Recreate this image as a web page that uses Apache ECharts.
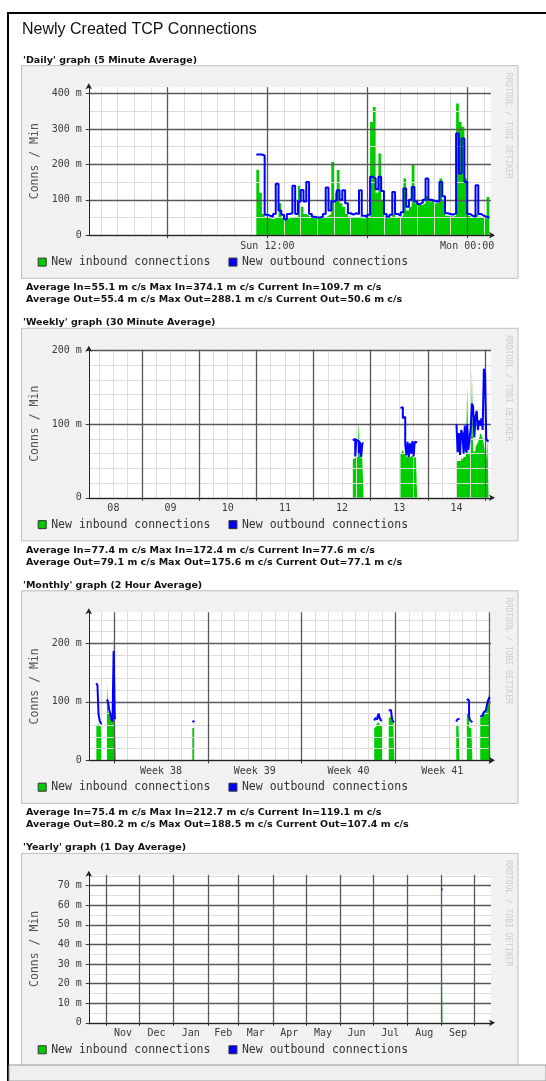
<!DOCTYPE html>
<html>
<head>
<meta charset="utf-8">
<title>Newly Created TCP Connections</title>
<script src="https://cdn.jsdelivr.net/npm/echarts@6/dist/echarts.min.js"></script>
<style>
  html, body { margin: 0; padding: 0; background: #fff; }
  #chart { width: 546px; height: 1081px; }
</style>
</head>
<body>
<div id="chart"></div>
<script>
// ---------- data ----------
var pageTitle = 'Newly Created TCP Connections';
var seriesNames = ['New inbound connections', 'New outbound connections'];
var panelTitles = [
  "'Daily' graph (5 Minute Average)",
  "'Weekly' graph (30 Minute Average)",
  "'Monthly' graph (2 Hour Average)",
  "'Yearly' graph (1 Day Average)"
];
var statsIn = [
  'Average In=55.1 m c/s Max In=374.1 m c/s Current In=109.7 m c/s',
  'Average In=77.4 m c/s Max In=172.4 m c/s Current In=77.6 m c/s',
  'Average In=75.4 m c/s Max In=212.7 m c/s Current In=119.1 m c/s'
];
var statsOut = [
  'Average Out=55.4 m c/s Max Out=288.1 m c/s Current Out=50.6 m c/s',
  'Average Out=79.1 m c/s Max Out=175.6 m c/s Current Out=77.1 m c/s',
  'Average Out=80.2 m c/s Max Out=188.5 m c/s Current Out=107.4 m c/s'
];

// daily: hours since Sun 00:00, 10 minute samples (null = gap)
var dailyStarts = [11 + 20 / 60];
var dailyStep = 1 / 6;
var dailyIn = [185, 120, 60, 50, 48, 45, 48, 50, 90, 50,
  45, 48, 50, 52, 50, 140, 80, 60, 55, 50,
  48, 48, 48, 48, 50, 55, 60, 207, 120, 184,
  90, 80, 60, 52, 50, 50, 50, 55, 48, 48,
  50, 320, 362, 120, 231, 100, 55, 48, 50, 60,
  52, 50, 55, 160, 70, 80, 198, 90, 85, 85,
  90, 110, 95, 100, 90, 92, 160, 100, 55, 55,
  52, 55, 372, 320, 306, 160, 55, 50, 48, 60,
  52, 50, 48, 108];
var dailyOut = [228, 228, 225, 58, 55, 52, 60, 145, 70, 58,
  45, 60, 62, 140, 60, 95, 128, 95, 150, 60,
  52, 50, 50, 52, 60, 135, 70, 95, 100, 127,
  100, 127, 90, 62, 58, 62, 60, 127, 55, 52,
  58, 165, 160, 130, 165, 125, 60, 52, 58, 122,
  60, 55, 65, 132, 80, 100, 136, 95, 88, 92,
  100, 160, 100, 98, 95, 95, 150, 110, 62, 60,
  58, 62, 287, 174, 273, 150, 60, 55, 52, 141,
  60, 55, 52, 50];
var dailyXTicks = [12, 24];
var dailyXLabels = ['Sun 12:00', 'Mon 00:00'];
var dailyYTicks = [0, 100, 200, 300, 400];
var dailyYLabels = ['0', '100 m', '200 m', '300 m', '400 m'];

// weekly: hours since day 08 00:00, 30 minute samples
var weeklyStarts = [112.5, 132.5, 156];
var weeklyStep = 0.5;
var weeklyIn = [52, 54, 53, 55, 52, 104, 55, 53, 50, null,
  58, 62, 65, 60, 58, 55, 57, 54, 56, 55, 57, 54, 55, 53, null,
  50, 50, 52, 50, 55, 52, 55, 56, 60, 152, 60, 58, 62, 173, 62, 64, 68, 72, 75, 80, 88, 85, 80, 72, 60, 52, 78];
var weeklyOut = [78, 80, 56, 79, 77, 60, 76, 55, 74, null,
  122, 123, 108, 110, 72, 58, 76, 55, 74, 60, 77, 56, 76, 75, null,
  100, 62, 88, 58, 92, 88, 60, 98, 62, 100, 65, 80, 95, 128, 124, 82, 110, 118, 92, 105, 98, 108, 92, 175, 170, 80, 77];
var weeklyXTicks = [12, 36, 60, 84, 108, 132, 156];
var weeklyXLabels = ['08', '09', '10', '11', '12', '13', '14'];
var weeklyYTicks = [0, 100, 200];
var weeklyYLabels = ['0', '100 m', '200 m'];

// monthly: hours since start of week 38, 2 hour samples
var monthlyStarts = [-32, -13, 140, 466, 492, 613, 632, 656];
var monthlyStep = 2;
var monthlyIn = [60, 62, 58, 60, 55, null,
  135, 82, 80, 78, 75, 72, 212, 65, null,
  55, 56, null,
  55, 58, 62, 65, 63, 60, 58, null,
  72, 75, 76, 74, 70, null,
  58, 60, 59, null,
  80, 78, 56, 55, 54, null,
  72, 74, 75, 80, 85, 88, 92, 100, 119];
var monthlyOut = [132, 128, 78, 68, 63, null,
  104, 100, 86, 80, 70, 66, 187, 72, null,
  66, 67, null,
  68, 72, 70, 75, 80, 72, 68, null,
  85, 86, 84, 70, 66, null,
  66, 70, 71, null,
  105, 102, 75, 68, 65, null,
  75, 76, 78, 82, 85, 88, 95, 102, 107];
var monthlyXTicks = [84, 252, 420, 588];
var monthlyXLabels = ['Week 38', 'Week 39', 'Week 40', 'Week 41'];
var monthlyYTicks = [0, 100, 200];
var monthlyYLabels = ['0', '100 m', '200 m'];

// yearly: days since Oct 16, 1 day samples
var yearlyStarts = [320];
var yearlyStep = 1;
var yearlyIn = [57];
var yearlyOut = [68];
var yearlyMonthStarts = [16, 46, 77, 108, 136, 167, 197, 228, 258, 289, 320, 350];
var yearlyXTicks = [31, 61.5, 92.5, 122, 151.5, 182, 212.5, 243, 273.5, 304.5, 335];
var yearlyXLabels = ['Nov', 'Dec', 'Jan', 'Feb', 'Mar', 'Apr', 'May', 'Jun', 'Jul', 'Aug', 'Sep'];
var yearlyYTicks = [0, 10, 20, 30, 40, 50, 60, 70];
var yearlyYLabels = ['0', '10 m', '20 m', '30 m', '40 m', '50 m', '60 m', '70 m'];

// ---------- helpers ----------
function range(a, b, s) {
  var r = [];
  for (var v = a; v <= b + 1e-9; v += s) r.push(+v.toFixed(4));
  return r;
}

// samples -> stepped points; each sample holds its value for one step
function toPoints(starts, step, values) {
  var pts = [], seg = 0, t = starts[0], last = null;
  values.forEach(function (v) {
    if (v === null) {
      pts.push([t, last]);
      pts.push([t, '-']);
      seg++;
      t = starts[seg];
      return;
    }
    pts.push([t, v]);
    last = v;
    t += step;
  });
  pts.push([t, last]);
  return pts;
}

// ---------- layout ----------
var MONO = '"DejaVu Sans Mono", monospace';
var SANS = '"DejaVu Sans", sans-serif';
var firstBox = 65.7, panelStep = 262.55;
var plotLeft = 88.8, plotWidth = 402.2, plotTop = 21.5, plotHeight = 148;

var panels = [
  { xMin: 1.27, xMax: 25.43, yMax: 418,
    inPts: toPoints(dailyStarts, dailyStep, dailyIn), outPts: toPoints(dailyStarts, dailyStep, dailyOut),
    xTicks: dailyXTicks, xLabels: dailyXLabels, yTicks: dailyYTicks, yLabels: dailyYLabels,
    majorX: [6, 12, 18, 24], minorX: range(2, 25, 1), minorY: range(50, 350, 100) },
  { xMin: 1.68, xMax: 170.5, yMax: 201,
    inPts: toPoints(weeklyStarts, weeklyStep, weeklyIn), outPts: toPoints(weeklyStarts, weeklyStep, weeklyOut),
    xTicks: weeklyXTicks, xLabels: weeklyXLabels, yTicks: weeklyYTicks, yLabels: weeklyYLabels,
    majorX: range(24, 168, 24), minorX: range(6, 168, 6), minorY: range(20, 180, 20) },
  { xMin: -45.5, xMax: 675.3, yMax: 253,
    inPts: toPoints(monthlyStarts, monthlyStep, monthlyIn), outPts: toPoints(monthlyStarts, monthlyStep, monthlyOut),
    xTicks: monthlyXTicks, xLabels: monthlyXLabels, yTicks: monthlyYTicks, yLabels: monthlyYLabels,
    majorX: range(0, 672, 168), minorX: range(-24, 672, 24), minorY: range(20, 240, 20) },
  { xMin: 0, xMax: 365, yMax: 75.5,
    inPts: toPoints(yearlyStarts, yearlyStep, yearlyIn), outPts: toPoints(yearlyStarts, yearlyStep, yearlyOut),
    xTicks: yearlyXTicks, xLabels: yearlyXLabels, yTicks: yearlyYTicks, yLabels: yearlyYLabels,
    majorX: yearlyMonthStarts, minorX: [], minorY: range(5, 75, 10) }
];

var minorStyle = { color: '#dcdcdc', width: 1, type: 'solid' };
var majorStyle = { color: '#585858', width: 1.3, type: 'solid' };

function gridLines(xs, ys, style) {
  return xs.map(function (v) { return { xAxis: v, lineStyle: style }; })
    .concat(ys.map(function (v) { return { yAxis: v, lineStyle: style }; }));
}

function markLineOf(items) {
  return {
    silent: true, symbol: ['none', 'none'], animation: false,
    label: { show: false }, emphasis: { disabled: true },
    data: items
  };
}

var grids = [], xAxes = [], yAxes = [], series = [], legends = [], graphics = [];

panels.forEach(function (p, k) {
  var box = firstBox + panelStep * k;

  grids.push({
    left: plotLeft, top: box + plotTop, width: plotWidth, height: plotHeight,
    show: true, backgroundColor: '#ffffff', borderWidth: 0, z: 1
  });

  xAxes.push({
    type: 'value', gridIndex: k, min: p.xMin, max: p.xMax, z: 6,
    splitLine: { show: false },
    axisLine: { show: true, onZero: false, lineStyle: { color: '#222', width: 1 },
      symbol: ['none', 'arrow'], symbolSize: [5, 6], symbolOffset: [0, 4] },
    axisTick: { show: true, customValues: p.majorX, length: 3, lineStyle: { color: '#333' } },
    axisLabel: {
      customValues: p.xTicks, margin: 6, color: '#3a3a3a',
      fontFamily: MONO, fontSize: 10,
      formatter: function (v) { return p.xLabels[p.xTicks.indexOf(v)] || ''; }
    }
  });

  yAxes.push({
    type: 'value', gridIndex: k, min: 0, max: p.yMax, z: 6,
    splitLine: { show: false },
    axisLine: { show: true, onZero: false, lineStyle: { color: '#222', width: 1 },
      symbol: ['none', 'arrow'], symbolSize: [5, 6], symbolOffset: [0, 4] },
    axisTick: { show: true, customValues: p.yTicks, length: 3, lineStyle: { color: '#333' } },
    axisLabel: {
      customValues: p.yTicks, margin: 7, color: '#3a3a3a',
      fontFamily: MONO, fontSize: 10,
      formatter: function (v) { return p.yLabels[p.yTicks.indexOf(v)] || ''; }
    }
  });

  series.push({
    type: 'line', name: 'minor-grid-' + k, xAxisIndex: k, yAxisIndex: k, data: [], z: 2,
    silent: true, markLine: markLineOf(gridLines(p.minorX, p.minorY, minorStyle))
  });
  series.push({
    type: 'line', name: seriesNames[0], xAxisIndex: k, yAxisIndex: k, z: 3,
    step: 'end', symbol: 'none', data: p.inPts,
    lineStyle: { width: 0 }, itemStyle: { color: '#00cc00' },
    areaStyle: { color: '#00cc00', opacity: 1 }
  });
  series.push({
    type: 'line', name: 'major-grid-' + k, xAxisIndex: k, yAxisIndex: k, data: [], z: 4,
    silent: true, markLine: markLineOf(gridLines(p.majorX, p.yTicks, majorStyle))
  });
  series.push({
    type: 'line', name: seriesNames[1], xAxisIndex: k, yAxisIndex: k, z: 5,
    step: 'end', symbol: 'none', data: p.outPts,
    lineStyle: { color: '#0000ff', width: 2 }, itemStyle: { color: '#0000ff' }
  });

  legends.push({
    data: seriesNames, left: 37.7, top: box + 196.4 - 6, padding: 0,
    itemWidth: 8, itemHeight: 8, itemGap: 18, icon: 'rect', selectedMode: false,
    itemStyle: { borderColor: '#333', borderWidth: 1 },
    textStyle: { fontFamily: MONO, fontSize: 11.5, color: '#333', lineHeight: 12 }
  });

  // framed canvas of the graph
  graphics.push({
    type: 'rect', z: 0, shape: { x: 21.5, y: box, width: 496.5, height: 212.6 },
    style: { fill: '#f1f1f1', stroke: '#bdbdbd', lineWidth: 1 }
  });
  graphics.push({
    type: 'text', z: 10, x: 23, y: box - 5.4,
    style: { text: panelTitles[k], font: 'bold 9.5px ' + SANS, fill: '#111', align: 'left', verticalAlign: 'middle' }
  });
  graphics.push({
    type: 'text', z: 10, x: 34.8, y: box + plotTop + plotHeight / 2, rotation: Math.PI / 2,
    style: { text: 'Conns / Min', font: '11.5px ' + MONO, fill: '#555', align: 'center', verticalAlign: 'middle' }
  });
  graphics.push({
    type: 'text', z: 10, x: 508.4, y: box + 60, rotation: -Math.PI / 2,
    style: { text: 'RRDTOOL / TOBI OETIKER', font: '8px ' + MONO, fill: '#cdcdcd', align: 'center', verticalAlign: 'middle' }
  });
  if (statsIn[k]) {
    graphics.push({
      type: 'text', z: 10, x: 26, y: box + 221.8,
      style: { text: statsIn[k], font: 'bold 9.5px ' + SANS, fill: '#111', align: 'left', verticalAlign: 'middle' }
    });
    graphics.push({
      type: 'text', z: 10, x: 26, y: box + 233.9,
      style: { text: statsOut[k], font: 'bold 9.5px ' + SANS, fill: '#111', align: 'left', verticalAlign: 'middle' }
    });
  }
});

// page frame, title and the bottom bar
graphics.push({ type: 'rect', z: 20, shape: { x: 7, y: 12, width: 539, height: 2 }, style: { fill: '#000' } });
graphics.push({ type: 'rect', z: 20, shape: { x: 7, y: 12, width: 2, height: 1069 }, style: { fill: '#000' } });
graphics.push({
  type: 'text', z: 10, x: 22, y: 30,
  style: { text: pageTitle, font: '16px "Liberation Sans", Arial, sans-serif', fill: '#111', align: 'left', verticalAlign: 'middle' }
});
graphics.push({
  type: 'rect', z: 30, shape: { x: 9, y: 1065, width: 537, height: 16 },
  style: { fill: '#efefef', stroke: '#9a9a9a', lineWidth: 1 }
});

var chart = echarts.init(document.getElementById('chart'), null, { renderer: 'canvas' });
chart.setOption({
  animation: false,
  backgroundColor: '#ffffff',
  grid: grids,
  xAxis: xAxes,
  yAxis: yAxes,
  legend: legends,
  series: series,
  graphic: { elements: graphics }
});
</script>
</body>
</html>
